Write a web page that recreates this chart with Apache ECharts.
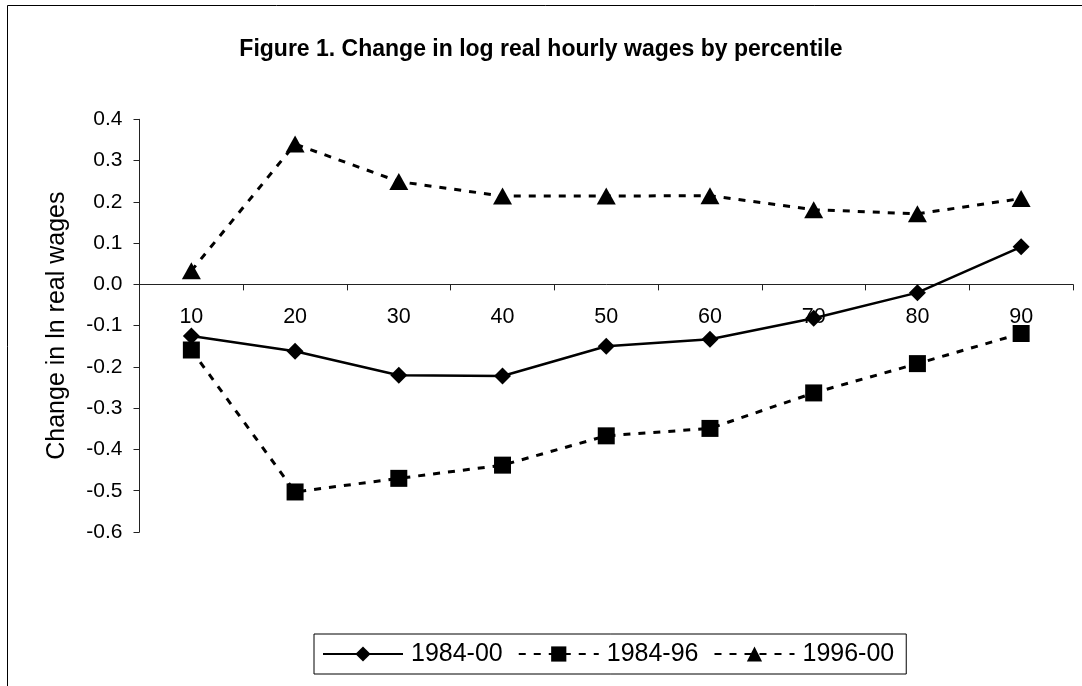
<!DOCTYPE html>
<html>
<head>
<meta charset="utf-8">
<script src="https://cdn.jsdelivr.net/npm/echarts@6/dist/echarts.min.js"></script>
<style>
html,body{margin:0;padding:0;background:#fff;}
#chart{width:1082px;height:686px;}
</style>
</head>
<body>
<div id="chart"></div>
<script>
var categories = ['10','20','30','40','50','60','70','80','90'];
var s1984_00 = [-0.125, -0.162, -0.220, -0.222, -0.150, -0.133, -0.082, -0.020, 0.091];
var s1984_96 = [-0.159, -0.503, -0.470, -0.438, -0.367, -0.349, -0.263, -0.192, -0.119];
var s1996_00 = [0.033, 0.340, 0.249, 0.214, 0.214, 0.215, 0.181, 0.171, 0.208];
var seriesNames = ['1984-00','1984-96','1996-00'];
var titleText = 'Figure 1. Change in log real hourly wages by percentile';
var yAxisTitle = 'Change in ln real wages';

var FONT = '"Liberation Sans", Arial, sans-serif';
var chart = echarts.init(document.getElementById('chart'), null, {renderer:'canvas'});
var option = {
  backgroundColor: '#ffffff',
  animation: false,
  title: {
    text: titleText,
    left: 'center',
    top: 33,
    textStyle: {fontFamily: FONT, fontWeight: 'bold', fontSize: 23, color: '#000'}
  },
  graphic: [{
    type: 'rect', silent: true,
    shape: {x: 7.5, y: 5.5, width: 2000, height: 2000},
    style: {fill: 'none', stroke: '#000', lineWidth: 1}
  }],
  grid: {left: 139.5, right: 9, top: 119.3, bottom: 154, containLabel: false},
  legend: {
    left: 314, top: 634,
    orient: 'horizontal',
    data: seriesNames,
    itemWidth: 80, itemHeight: 19, itemGap: 15,
    padding: [7, 12, 7, 8],
    borderColor: '#000', borderWidth: 1,
    textStyle: {fontFamily: FONT, fontSize: 25, color: '#000', lineHeight: 26, padding: [0,0,0,3]}
  },
  xAxis: {
    type: 'category',
    data: categories,
    boundaryGap: true,
    position: 'bottom',
    offset: 0,
    axisLine: {onZero: false, lineStyle: {color: '#222', width: 1}},
    axisTick: {show: true, inside: false, length: 6, interval: 0, lineStyle: {color: '#222'}},
    axisLabel: {interval: 0, margin: 22, fontFamily: FONT, fontSize: 21.5, color: '#000'},
    splitLine: {show: false}
  },
  yAxis: {
    type: 'value',
    min: -0.6, max: 0.4, interval: 0.1,
    name: yAxisTitle,
    nameLocation: 'middle',
    nameGap: 70,
    nameRotate: 90,
    nameTextStyle: {fontFamily: FONT, fontSize: 25, color: '#000'},
    axisLine: {show: true, onZero: false, lineStyle: {color: '#222', width: 1}},
    axisTick: {show: true, inside: false, length: 6, lineStyle: {color: '#222'}},
    axisLabel: {margin: 17, fontFamily: FONT, fontSize: 21, color: '#000',
      formatter: function(v){ return (Math.round(v*10)/10).toFixed(1); }},
    splitLine: {show: false}
  },
  series: [
    {
      name: seriesNames[0], type: 'line', data: s1984_00, z: 3,
      symbol: 'diamond', symbolSize: [17, 17],
      lineStyle: {color: '#000', width: 2.5, type: 'solid'},
      itemStyle: {color: '#000'}
    },
    {
      name: seriesNames[1], type: 'line', data: s1984_96, z: 2,
      symbol: 'rect', symbolSize: [17, 17],
      lineStyle: {color: '#000', width: 3, type: [7, 8]},
      itemStyle: {color: '#000'}
    },
    {
      name: seriesNames[2], type: 'line', data: s1996_00, z: 2,
      symbol: 'triangle', symbolSize: [19, 17],
      lineStyle: {color: '#000', width: 3, type: [7, 8]},
      itemStyle: {color: '#000'}
    }
  ]
};
chart.setOption(option);
// Move the category axis (line, ticks, labels) up to the y = 0 position using the library's own scale.
var zeroPx = chart.convertToPixel({yAxisIndex: 0}, 0);
var bottomPx = chart.convertToPixel({yAxisIndex: 0}, -0.6);
chart.setOption({xAxis: {offset: -(bottomPx - zeroPx)}});
</script>
</body>
</html>
